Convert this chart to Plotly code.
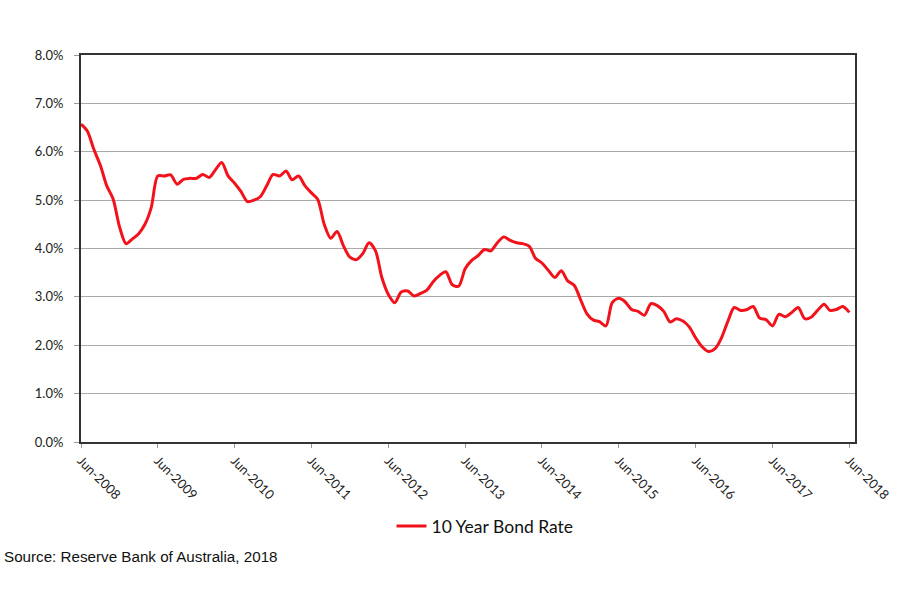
import plotly.graph_objects as go
import pandas as pd

start_month = "2008-06-01"
bond_rate = [
    6.57, 6.43, 6.05, 5.72, 5.30, 5.02, 4.45, 4.10, 4.20, 4.30, 4.50, 4.85,
    5.50, 5.50, 5.52, 5.33, 5.43, 5.45, 5.45, 5.53, 5.47, 5.62, 5.78, 5.50,
    5.35, 5.18, 4.97, 5.00, 5.07, 5.30, 5.53, 5.50, 5.60, 5.42, 5.50, 5.30,
    5.15, 5.02, 4.50, 4.21, 4.35, 4.05, 3.82, 3.77, 3.90, 4.12, 3.95, 3.40,
    3.05, 2.88, 3.10, 3.12, 3.02, 3.07, 3.14, 3.32, 3.45, 3.52, 3.25, 3.22,
    3.58, 3.75, 3.85, 3.98, 3.95, 4.12, 4.24, 4.17, 4.12, 4.10, 4.05, 3.80,
    3.70, 3.55, 3.40, 3.54, 3.33, 3.24, 2.95, 2.65, 2.52, 2.49, 2.40, 2.88,
    2.97, 2.90, 2.74, 2.70, 2.62, 2.86, 2.82, 2.70, 2.48, 2.55, 2.50, 2.38,
    2.15, 1.97, 1.87, 1.93, 2.15, 2.50, 2.78, 2.72, 2.74, 2.80, 2.56, 2.53,
    2.40, 2.64, 2.59, 2.68, 2.78, 2.55, 2.58, 2.72, 2.85, 2.72, 2.74, 2.80,
    2.68,
]
tick_years = list(range(2008, 2019))
tick_labels = [f"Jun-{y}" for y in tick_years]
y_ticks = [0, 1, 2, 3, 4, 5, 6, 7, 8]
y_labels = [f"{v:.1f}%" for v in y_ticks]
series_name = "10 Year Bond Rate"
source_text = "Source: Reserve Bank of Australia, 2018"

dates = pd.date_range(start_month, periods=len(bond_rate), freq="MS")
tick_dates = [pd.Timestamp(f"{y}-06-01") for y in tick_years]

fig = go.Figure()
fig.add_trace(go.Scatter(
    x=dates, y=bond_rate, mode="lines", name=series_name,
    line=dict(color="#f2121b", width=3, shape="spline", smoothing=0.8),
))

fig.update_layout(
    width=900, height=600,
    margin=dict(l=81, r=45, t=55, b=158, autoexpand=False),
    paper_bgcolor="white", plot_bgcolor="white",
    font=dict(family="Lato, Arial, sans-serif", color="#222222"),
    showlegend=True,
    legend=dict(orientation="h", x=(485 - 81) / 774, xanchor="center",
                yref="container", y=74/600, yanchor="middle",
                font=dict(size=17.5, color="#111111")),
    xaxis=dict(
        range=[pd.Timestamp("2008-06-01"), pd.Timestamp("2018-06-28")],
        tickvals=tick_dates, ticktext=tick_labels, tickangle=45,
        ticks="outside", ticklen=4, tickcolor="#999999",
        tickfont=dict(size=13, color="#222222"),
        showgrid=False, showline=True, linecolor="#333333", linewidth=2,
        mirror=True, zeroline=False, automargin=False,
    ),
    yaxis=dict(
        range=[0, 8], tickvals=y_ticks, ticktext=y_labels,
        ticks="outside", ticklen=5, tickcolor="#999999",
        tickfont=dict(size=13, color="#222222"), ticklabelstandoff=8,
        showgrid=True, gridcolor="#aaaaaa", gridwidth=1,
        showline=True, linecolor="#333333", linewidth=2,
        mirror=True, zeroline=False, automargin=False,
    ),
    annotations=[dict(
        text=source_text, xref="paper", yref="paper",
        x=-79/774, y=-114/387, xanchor="left", yanchor="middle",
        showarrow=False, font=dict(family="Arial, Liberation Sans, sans-serif", size=15.2, color="#111111"),
    )],
)

fig.write_html("out.html", config={"displayModeBar": False},
               post_script="document.body.style.margin='0';")
